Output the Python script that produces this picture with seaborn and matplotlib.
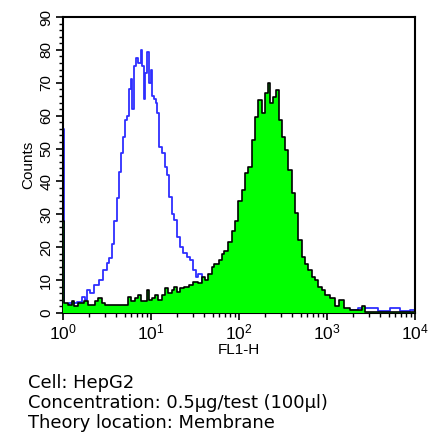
import numpy as np
import matplotlib
matplotlib.use("Agg")
import matplotlib.pyplot as plt
import seaborn as sns
from matplotlib.ticker import MultipleLocator, LogLocator

# isotype control (blue outline)
ctrl_fl = [1.0, 1.05, 1.3, 1.56, 1.70, 1.82, 1.94, 2.12, 2.42, 2.75, 3.0, 3.27, 3.48,
           3.73, 3.9, 4.25, 4.44, 4.65, 4.93, 5.3, 5.5, 5.76, 6.03, 6.24, 6.58, 6.98,
           7.41, 7.84, 8.17, 8.43, 8.77, 9.31, 9.75, 10.1, 10.6, 11.1, 11.6, 12.1,
           12.6, 13.8, 14.8, 15.3, 16.4, 17.9, 18.7, 20.4, 22.3, 24.3, 26.5, 28.9,
           31.6, 33.1, 36.0, 39.3, 43.0, 53.0, 79.0, 173, 490, 1410, 3090, 4570,
           5890, 7760, 9800]
ctrl_counts = [56, 2.5, 3, 3.4, 5, 4, 7, 6, 8.5, 10, 13, 15.2, 16.7,
               21, 28, 35, 43, 48.6, 53.6, 58.7, 60, 68, 71, 62, 75, 77.5,
               76, 80, 75, 65, 73, 79.4, 70, 74, 66, 65, 64, 60.7,
               50.5, 48.6, 44.5, 42, 35.4, 30, 28.3, 23.2, 20, 18.2, 17, 16,
               13, 11, 12, 9, 8, 6, 3, 2, 1, 1, 1.5, 0.5,
               1.5, 0.5, 1]

# antibody stained (green filled)
stain_fl = [1.0, 1.05, 1.2, 1.3, 1.4, 1.56, 1.86, 2.03, 2.21, 2.42, 2.63, 2.85, 3.14,
            3.42, 4.22, 5.3, 5.76, 6.24, 6.87, 7.5, 8.0, 8.55, 9.31, 9.87, 10.6,
            11.6, 12.6, 13.8, 15.1, 16.4, 17.8, 18.7, 20.4, 22.3, 25.5, 28.9, 31.6,
            36.0, 39.3, 43.0, 46.8, 51.0, 53.4, 58.2, 60.8, 66.2, 69.4, 72.5, 79.0,
            86.0, 94.0, 102.5, 112, 122, 133, 145, 159, 173, 189, 206, 219, 235,
            250, 272, 292, 319, 347, 379, 414, 453, 494, 538, 588, 641, 699, 763,
            832, 908, 993, 1180, 1290, 1470, 1675, 1995, 2370, 2690, 2750, 10000]
stain_counts = [28, 3, 2.5, 3.5, 2, 3, 3.5, 2.5, 2.5, 3.5, 4.5, 3, 2.5,
                2.5, 2.5, 2.5, 5, 3.5, 4.5, 5.5, 3.5, 3.5, 7, 4, 4.5,
                5.5, 4, 5.5, 7.5, 6, 7, 8, 6.5, 7.5, 8, 8.5, 9.5,
                9, 11, 10, 12, 14, 15, 15, 16, 18, 19, 19, 21.5,
                25, 28, 34, 37.4, 42.5, 44.5, 52.6, 59.7, 64.7, 60.8, 66.8, 69.8, 63.8,
                65.8, 67.8, 58.7, 53.6, 49.5, 43.5, 36.4, 30.3, 22.2, 17, 15, 13, 11, 10,
                8, 7, 5.5, 4.5, 2, 4, 1.5, 1, 1, 2, 0.3, 0.3]

sns.set_style("ticks")
plt.rcParams['font.family'] = ['Liberation Sans', 'DejaVu Sans']
plt.rcParams['mathtext.default'] = 'regular'
plt.rcParams['text.color'] = 'black'
plt.rcParams['axes.labelcolor'] = 'black'
plt.rcParams['xtick.color'] = 'black'
plt.rcParams['ytick.color'] = 'black'

fig = plt.figure(figsize=(4.38, 4.40), dpi=100)
ax = fig.add_axes([63/438, 1 - 313/440, (415 - 63)/438, (313 - 17)/440])

sns.lineplot(x=ctrl_fl, y=ctrl_counts, ax=ax, color="#2e2eff", lw=1.3,
             drawstyle="steps-mid", zorder=2)
ax.fill_between(stain_fl, stain_counts, 0, step="mid", color="#00ff00",
                lw=0, zorder=3)
sns.lineplot(x=stain_fl, y=stain_counts, ax=ax, color="black", lw=1.2,
             drawstyle="steps-mid", zorder=4)

ax.set_xscale("log")
ax.set_xlim(1, 10000)
ax.set_ylim(0, 90)
ax.yaxis.set_major_locator(MultipleLocator(10))
ax.yaxis.set_minor_locator(MultipleLocator(2))
ax.xaxis.set_major_locator(LogLocator(base=10, numticks=10))
ax.xaxis.set_minor_locator(LogLocator(base=10, subs=np.arange(2, 10), numticks=10))

for s in ax.spines.values():
    s.set_color("black")
    s.set_linewidth(1.5)
    s.set_visible(True)

ax.tick_params(axis="both", which="major", direction="out", length=5, width=1.2, color="black")
ax.tick_params(axis="both", which="minor", direction="out", length=3, width=1, color="black")
ax.tick_params(axis="x", labelsize=12.5, pad=2)
ax.tick_params(axis="y", labelsize=11, pad=2)
for lab in ax.get_yticklabels():
    lab.set_rotation(90)
    lab.set_va("center")

ax.set_xlabel("FL1-H", fontsize=11, labelpad=0)
ax.set_ylabel("Counts", fontsize=11, labelpad=3)

info = ["Cell: HepG2", "Concentration: 0.5µg/test (100µl)", "Theory location: Membrane"]
for i, line in enumerate(info):
    fig.text(28/438, 1 - (388 + 20*i)/440, line, fontsize=12.9,
             family=["DejaVu Sans"], va="baseline", ha="left")

fig.savefig("out.png", dpi=100, facecolor="white")
